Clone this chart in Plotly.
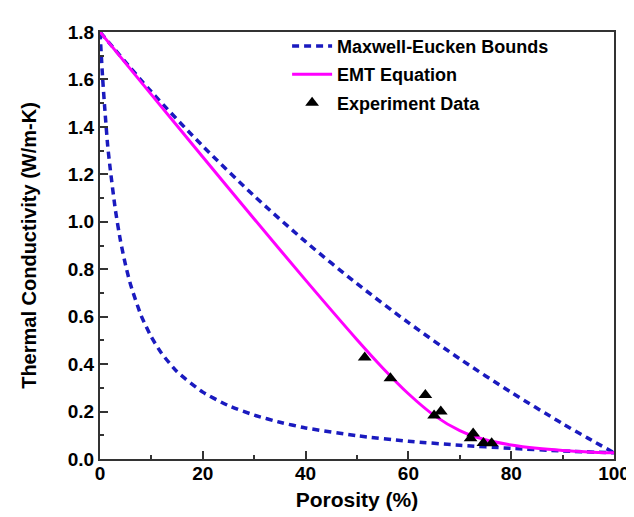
import plotly.graph_objects as go

# Maxwell-Eucken upper bound
me_upper_x = [0, 10, 20, 30, 40, 50, 60, 70, 80, 90, 95, 100]
me_upper_y = [1.80, 1.548, 1.319, 1.109, 0.916, 0.739, 0.575, 0.422, 0.281, 0.149, 0.087, 0.026]

# Maxwell-Eucken lower bound
me_lower_x = [0, 0.5, 1, 1.5, 2, 3, 4, 5, 6, 8, 10, 12, 15, 20, 25, 30, 35, 40, 50, 60, 70, 80, 90, 100]
me_lower_y = [1.80, 1.61, 1.456, 1.32, 1.221, 1.049, 0.918, 0.815, 0.731, 0.605, 0.514, 0.445, 0.368,
              0.282, 0.225, 0.185, 0.155, 0.131, 0.098, 0.075, 0.058, 0.045, 0.034, 0.026]

# EMT equation
emt_x = [0, 10, 20, 30, 40, 50, 55, 60, 65, 70, 75, 80, 85, 90, 95, 100]
emt_y = [1.80, 1.536, 1.273, 1.012, 0.754, 0.503, 0.384, 0.275, 0.184, 0.120, 0.081, 0.059, 0.045, 0.036, 0.030, 0.026]

# Experiment data
exp_x = [51.5, 56.5, 63.3, 65.0, 66.3, 72.6, 72.1, 74.6, 76.2]
exp_y = [0.428, 0.340, 0.270, 0.183, 0.200, 0.108, 0.087, 0.067, 0.066]

BLUE = "#1a1abf"
FONT = "Liberation Sans, Arial, sans-serif"

fig = go.Figure()
fig.add_trace(go.Scatter(x=me_upper_x, y=me_upper_y, mode="lines", name="Maxwell-Eucken Bounds",
                         legendgroup="me", line=dict(color=BLUE, width=3.5, dash="7px,5px", shape="spline", smoothing=0.8)))
fig.add_trace(go.Scatter(x=me_lower_x, y=me_lower_y, mode="lines", name="Maxwell-Eucken Bounds",
                         legendgroup="me", showlegend=False,
                         line=dict(color=BLUE, width=3.5, dash="7px,5px", shape="spline", smoothing=0.6)))
fig.add_trace(go.Scatter(x=emt_x, y=emt_y, mode="lines", name="EMT Equation", legendgroup="emt",
                         line=dict(color="#ff00ff", width=3, shape="spline", smoothing=0.8)))
fig.add_trace(go.Scatter(x=exp_x, y=exp_y, mode="markers", name="Experiment Data", legendgroup="exp",
                         marker=dict(symbol="triangle-up", size=12, color="black")))

axis_common = dict(
    showline=True, linecolor="#333333", linewidth=2, mirror=True,
    ticks="inside", ticklen=8, tickwidth=1.5, tickcolor="#333333",
    showgrid=False, zeroline=False,
    tickfont=dict(family=FONT, size=19, color="black", weight="bold"),
)

fig.update_xaxes(range=[0, 100], dtick=20, tick0=0,
                 minor=dict(ticks="inside", dtick=10, ticklen=4, tickcolor="#333333"),
                 title=dict(text="Porosity (%)", font=dict(family=FONT, size=21, color="black", weight="bold"),
                            standoff=10),
                 ticklabelstandoff=-4,
                 **axis_common)
fig.update_yaxes(range=[0, 1.8], dtick=0.2, tick0=0, tickformat=".1f",
                 minor=dict(ticks="inside", dtick=0.1, ticklen=4, tickcolor="#333333"),
                 title=dict(text="Thermal Conductivity (W/m-K)",
                            font=dict(family=FONT, size=20, color="black", weight="bold"), standoff=26),
                 **axis_common)

fig.update_layout(
    width=634, height=517,
    margin=dict(l=92, r=22, t=24, b=66),
    plot_bgcolor="white", paper_bgcolor="white",
    legend=dict(x=0.364, y=1.01, xanchor="left", yanchor="top", bgcolor="rgba(0,0,0,0)",
                font=dict(family=FONT, size=18, color="black", weight="bold"),
                traceorder="grouped", tracegroupgap=2, itemwidth=40),
    showlegend=True,
)

fig.write_html("out.html")
